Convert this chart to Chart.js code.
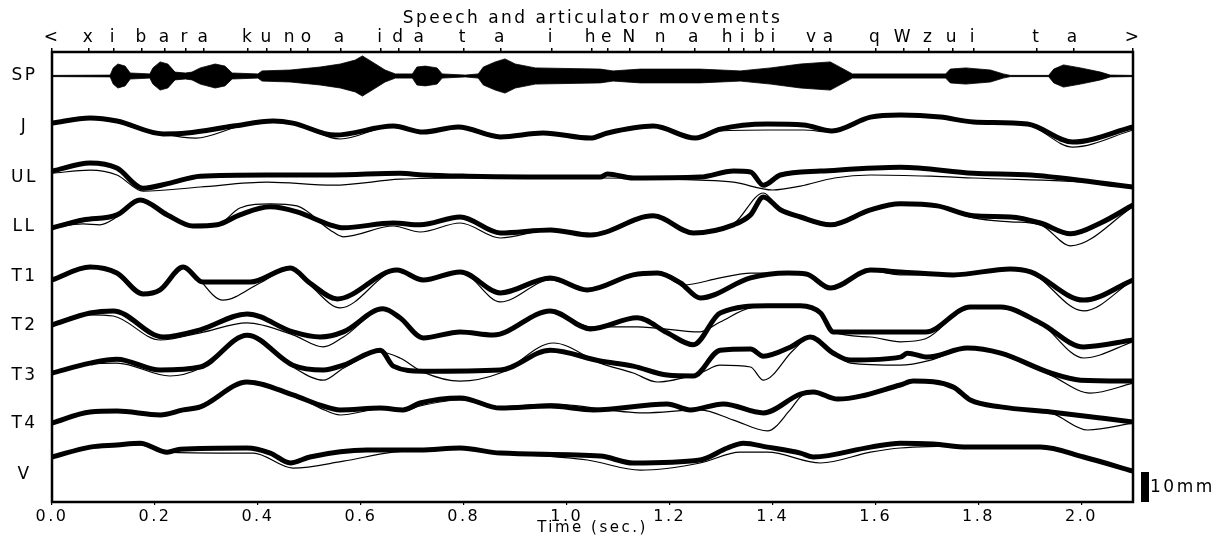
<!DOCTYPE html>
<html>
<head>
<meta charset="utf-8">
<title>Speech and articulator movements</title>
<script src="https://cdn.jsdelivr.net/npm/chart.js@4.4.1/dist/chart.umd.min.js"></script>
<style>
    html, body { margin: 0; padding: 0; background: #fff; }
</style>
</head>
<body>
<canvas id="motionChart" width="1220" height="539"></canvas>
<script>
// Time axis (seconds)
const timeTicks = [0, 0.2, 0.4, 0.6, 0.8, 1.0, 1.2, 1.4, 1.6, 1.8, 2.0];

// Phoneme marks along the top
const phonTimes = [0, 0.072, 0.119, 0.175, 0.220, 0.259, 0.295, 0.381, 0.418, 0.463, 0.496, 0.560,
    0.639, 0.674, 0.715, 0.799, 0.871, 0.970, 1.048, 1.079, 1.123, 1.184, 1.248, 1.314, 1.343,
    1.376, 1.403, 1.477, 1.510, 1.600, 1.654, 1.703, 1.749, 1.790, 1.913, 1.984, 2.1];
const phonLabels = ['<', 'x', 'i', 'b', 'a', 'r', 'a', 'k', 'u', 'n', 'o', 'a', 'i', 'd', 'a', 't', 'a',
    'i', 'h', 'e', 'N', 'n', 'a', 'h', 'i', 'b', 'i', 'v', 'a', 'q', 'W', 'z', 'u', 'i', 't', 'a', '>'];

// Channel names (top to bottom)
const channelNames = ['SP', 'J', 'UL', 'LL', 'T1', 'T2', 'T3', 'T4', 'V'];

// Speech waveform envelope: time (s) and half amplitude (mm on the plot)
const spTime = [0, 0.113, 0.119, 0.128, 0.142, 0.152, 0.190, 0.196, 0.210, 0.225, 0.239, 0.259, 0.272,
    0.288, 0.317, 0.336, 0.350, 0.400, 0.408, 0.463, 0.521, 0.560, 0.589, 0.603, 0.622, 0.647, 0.667,
    0.700, 0.709, 0.725, 0.748, 0.758, 0.803, 0.828, 0.838, 0.861, 0.880, 0.900, 0.939, 1.065, 1.090,
    1.143, 1.259, 1.337, 1.396, 1.454, 1.512, 1.541, 1.555, 1.736, 1.745, 1.775, 1.823, 1.848, 1.862,
    1.936, 1.946, 1.965, 1.998, 2.037, 2.056, 2.1];
const spAmp = [0.2, 0.3, 2.7, 4, 3.3, 1, 0.7, 2.7, 4.7, 4, 1.3, 1, 1.3, 2.7, 4, 3.3, 1, 0.7, 1.7, 2, 3,
    4, 5.3, 6.7, 4.7, 2, 0.7, 0.7, 3, 3.3, 2.7, 0.7, 0.3, 0.7, 3, 4.7, 5.7, 4, 2.7, 2.3, 1.7, 2.3, 2.3,
    1.7, 2.7, 4, 4.7, 2, 0.7, 0.7, 2.3, 2.7, 2, 0.7, 0.2, 0.2, 2.3, 3.7, 2.7, 1.3, 0.3, 0.2];

// Articulator traces: [time s, displacement mm]; thick = measured, thin = model
const jawThick = [[0, 1.3], [0.074, 3.0], [0.126, 2.0], [0.216, -2.3], [0.262, -2.0], [0.352, 0.3], [0.430, 2.0],
    [0.468, 1.3], [0.550, -2.7], [0.663, 0.3], [0.721, -1.7], [0.789, 0], [0.871, -3.3], [0.954, -2.0],
    [1.046, -3.7], [1.079, -2.0], [1.168, 0.3], [1.250, -3.7], [1.298, -0.7], [1.390, 1.0], [1.460, 0.7],
    [1.515, -1.3], [1.590, 3.3], [1.648, 4.0], [1.726, 3.3], [1.790, 1.7], [1.895, 1.0], [1.983, -5.0], [2.1, 0]];
const jawThin = [[0, 1.3], [0.074, 3.0], [0.126, 2.0], [0.216, -2.3], [0.28, -3.7], [0.36, 0], [0.43, 2.0],
    [0.468, 1.3], [0.56, -4.0], [0.663, 0.3], [0.721, -1.7], [0.789, 0], [0.871, -3.3], [0.954, -2.0],
    [1.046, -3.7], [1.079, -2.0], [1.168, 0.3], [1.250, -3.7], [1.298, -1.3], [1.39, -1.0], [1.46, -1.0],
    [1.515, -1.7], [1.590, 3.0], [1.648, 3.7], [1.726, 3.0], [1.790, 1.7], [1.895, 0.7], [1.983, -6.7], [2.1, -1.0]];

const ulThick = [[0, 2.0], [0.074, 4.7], [0.126, 3.0], [0.177, -3.7], [0.229, -2.0], [0.288, 0.3], [0.418, 0.7],
    [0.546, 0.7], [0.676, 1.3], [0.721, 0.7], [0.807, 0.3], [1.065, 0], [1.079, 1.0], [1.129, -0.3], [1.259, 0],
    [1.324, 2.0], [1.357, 1.7], [1.382, -2.7], [1.415, 0.7], [1.493, 2.0], [1.648, 3.3], [1.790, 1.3],
    [1.901, 0.7], [2.1, -3.3]];
const ulThin = [[0, 1.3], [0.074, 2.3], [0.126, 0.7], [0.177, -4.7], [0.288, -3.3], [0.418, -1.7], [0.546, -2.7],
    [0.676, -0.7], [0.807, -0.3], [1.065, -0.3], [1.259, -1.0], [1.324, -1.7], [1.40, -4.3], [1.454, -3.0],
    [1.52, -0.3], [1.590, 0.7], [1.707, 0.3], [1.790, -0.3], [2.037, -2.0], [2.1, -3.3]];

const llThick = [[0, -0.3], [0.060, 2.3], [0.126, 4.0], [0.171, 9.0], [0.224, 4.0], [0.274, 0.3], [0.321, 0.7],
    [0.365, 4.0], [0.424, 6.7], [0.476, 5.0], [0.540, 0.7], [0.566, -0.3], [0.663, 1.3], [0.715, 0.7],
    [0.793, 3.3], [0.871, -2.0], [0.968, -1.0], [1.046, -2.7], [1.168, 3.7], [1.246, -2.0], [1.324, 0.7],
    [1.357, 4.0], [1.382, 10.0], [1.415, 5.7], [1.454, 3.3], [1.512, 0.7], [1.590, 5.7], [1.648, 7.7],
    [1.720, 7.0], [1.790, 3.7], [1.862, 3.3], [1.920, 1.3], [1.979, -2.3], [2.037, 1.3], [2.1, 7.3]];
const llThin = [[0, -0.3], [0.060, 1.0], [0.093, 0.7], [0.126, 3.3], [0.171, 9.0], [0.224, 4.0], [0.274, 0.3],
    [0.321, 0.7], [0.365, 6.3], [0.424, 7.7], [0.476, 7.0], [0.540, -1.0], [0.566, -3.3], [0.663, 0.3],
    [0.715, -1.7], [0.793, 1.3], [0.871, -3.7], [0.968, -1.0], [1.046, -2.7], [1.168, 3.3], [1.246, -2.0],
    [1.324, 1.0], [1.382, 11.3], [1.415, 5.7], [1.454, 3.3], [1.512, 0.7], [1.590, 5.7], [1.648, 7.7],
    [1.720, 6.7], [1.790, 3.0], [1.862, 1.7], [1.920, 0.7], [1.979, -6.3], [2.1, 6.7]];

const t1Thick = [[0, -1.0], [0.074, 3.3], [0.126, 1.3], [0.177, -5.7], [0.210, -4.3], [0.255, 3.3], [0.293, -1.7],
    [0.385, -1.7], [0.463, 3.0], [0.501, -2.0], [0.554, -7.3], [0.67, 2.3], [0.721, -1.0], [0.793, 1.7],
    [0.871, -5.3], [0.968, -0.3], [1.040, -4.3], [1.129, 0.7], [1.176, 1.3], [1.221, -2.0], [1.259, -7.0],
    [1.357, -0.3], [1.429, 1.3], [1.465, 1.0], [1.512, -3.7], [1.590, 2.3], [1.648, 1.7], [1.751, 0.7],
    [1.862, 2.7], [1.901, 1.7], [2.004, -7.7], [2.1, -1.0]];
const t1Thin = [[0, -1.0], [0.074, 3.3], [0.126, 1.3], [0.177, -5.3], [0.210, -4.3], [0.255, 3.3], [0.332, -7.7],
    [0.404, -2.0], [0.463, 3.0], [0.501, -2.7], [0.560, -10.3], [0.67, 2.0], [0.721, -1.0], [0.793, 1.7],
    [0.871, -8.3], [0.968, -1.0], [1.040, -4.3], [1.129, 0.7], [1.176, 1.3], [1.226, -2.7], [1.298, -0.3],
    [1.357, 1.3], [1.429, 1.3], [1.465, 1.0], [1.512, -3.7], [1.590, 2.0], [1.648, 0.7], [1.751, 0.7],
    [1.862, 2.7], [1.901, 1.7], [2.004, -11.3], [2.1, -1.0]];

const t2Thick = [[0, 0.3], [0.074, 4.3], [0.119, 5.0], [0.216, -3.7], [0.288, -1.3], [0.379, 4.0], [0.468, -2.0],
    [0.521, -3.7], [0.566, -2.0], [0.643, 5.7], [0.676, 2.7], [0.721, -4.0], [0.793, -2.0], [0.857, -3.0],
    [0.968, 5.0], [1.046, -1.0], [1.137, 2.7], [1.195, -2.3], [1.246, -6.3], [1.298, 4.3], [1.390, 6.7],
    [1.454, 6.7], [1.493, 4.3], [1.518, -2.0], [1.590, -2.0], [1.697, -2.0], [1.784, 6.3], [1.843, 6.3],
    [1.920, 1.0], [2.004, -7.0], [2.1, -4.7]];
const t2Thin = [[0, 0.3], [0.074, 3.7], [0.119, 3.3], [0.210, -4.7], [0.288, -2.3], [0.379, 1.0], [0.468, -3.0],
    [0.527, -7.0], [0.566, -3.7], [0.643, 5.3], [0.676, 2.7], [0.721, -4.0], [0.793, -2.0], [0.857, -3.0],
    [0.968, 5.0], [1.046, -0.3], [1.137, -0.3], [1.259, -2.0], [1.298, 1.3], [1.357, 6.0], [1.454, 7.0],
    [1.493, 4.3], [1.518, -2.0], [1.590, -3.7], [1.648, -5.3], [1.697, -4.3], [1.784, 6.3], [1.843, 6.3],
    [1.920, 1.0], [2.004, -10.7], [2.1, -5.3]];

const t3Thick = [[0, 0.7], [0.074, 4.0], [0.126, 5.3], [0.210, 1.7], [0.288, 2.7], [0.379, 13.3], [0.468, 3.3],
    [0.527, 1.7], [0.566, 3.3], [0.638, 8.3], [0.663, 3.0], [0.721, 1.3], [0.871, 1.7], [0.968, 8.3],
    [1.065, 4.7], [1.129, 3.0], [1.195, 0], [1.246, -0.3], [1.298, 8.3], [1.357, 8.7], [1.382, 6.3],
    [1.434, 9.3], [1.473, 12.7], [1.518, 7.3], [1.551, 5.0], [1.648, 6.0], [1.662, 7.3], [1.701, 6.0],
    [1.778, 9.0], [1.843, 7.3], [1.940, 0.7], [1.998, -1.7], [2.1, -2.0]];
const t3Thin = [[0, 0.7], [0.074, 3.7], [0.126, 4.0], [0.229, -0.3], [0.288, 2.3], [0.379, 13.3], [0.468, 2.7],
    [0.527, -1.7], [0.566, 2.3], [0.638, 7.7], [0.676, 5.7], [0.721, 1.0], [0.793, -2.0], [0.871, 0.7],
    [0.974, 10.7], [1.065, 4.0], [1.129, 0.7], [1.176, -2.3], [1.259, 0.7], [1.298, 3.3], [1.357, 2.7],
    [1.382, -1.7], [1.440, 8.3], [1.473, 12.7], [1.518, 7.3], [1.551, 4.0], [1.648, 3.3], [1.707, 5.0],
    [1.778, 9.0], [1.843, 7.3], [1.940, 0], [2.017, -6.0], [2.1, -2.7]];

const t4Thick = [[0, 0.3], [0.074, 4.0], [0.126, 4.3], [0.210, 3.0], [0.255, 4.7], [0.288, 5.7], [0.379, 14.0],
    [0.468, 9.7], [0.521, 6.3], [0.560, 4.7], [0.638, 5.3], [0.682, 4.7], [0.715, 7.0], [0.793, 8.7],
    [0.871, 5.3], [0.968, 6.0], [1.052, 4.7], [1.195, 6.7], [1.240, 4.7], [1.304, 6.7], [1.382, 3.7],
    [1.454, 10.0], [1.479, 10.7], [1.526, 8.3], [1.648, 13.0], [1.673, 14.3], [1.751, 12.3], [1.784, 8.0],
    [1.843, 5.7], [1.940, 4.0], [2.037, 2.0], [2.1, 0.7]];
const t4Thin = [[0, 0.3], [0.074, 4.0], [0.126, 4.3], [0.210, 3.0], [0.255, 4.7], [0.288, 5.7], [0.379, 14.0],
    [0.468, 9.7], [0.521, 5.3], [0.560, 3.0], [0.638, 5.0], [0.682, 4.3], [0.715, 6.0], [0.793, 8.0],
    [0.871, 5.7], [0.968, 6.7], [1.149, 3.7], [1.259, 4.7], [1.324, 1.3], [1.390, -2.3], [1.434, 4.7],
    [1.454, 9.0], [1.479, 10.7], [1.526, 8.3], [1.648, 13.0], [1.673, 14.0], [1.751, 12.0], [1.784, 7.7],
    [1.843, 5.3], [1.940, 3.7], [2.012, -2.0], [2.1, 0.3]];

const vThick = [[0, 5.7], [0.074, 9.0], [0.126, 9.7], [0.171, 10.3], [0.224, 7.3], [0.249, 8.3], [0.379, 8.7],
    [0.424, 7.0], [0.463, 3.7], [0.501, 5.7], [0.612, 8.0], [0.715, 8.0], [0.793, 8.7], [0.871, 7.0],
    [1.065, 6.0], [1.129, 3.7], [1.259, 4.7], [1.312, 8.7], [1.343, 10.3], [1.390, 9.0], [1.454, 7.0],
    [1.479, 5.7], [1.590, 9.0], [1.648, 10.3], [1.712, 10.0], [1.778, 9.0], [1.920, 9.0], [2.004, 5.7], [2.1, 1.0]];
const vThin = [[0, 5.7], [0.074, 8.7], [0.171, 9.7], [0.224, 7.3], [0.340, 7.0], [0.391, 7.0], [0.468, 2.0],
    [0.566, 4.3], [0.663, 7.3], [0.793, 8.3], [0.871, 7.0], [1.040, 4.7], [1.143, 1.3], [1.259, 3.7],
    [1.337, 7.3], [1.390, 7.3], [1.493, 3.7], [1.590, 7.3], [1.648, 8.7], [1.778, 9.3], [1.920, 9.0],
    [2.004, 5.7], [2.1, 1.0]];

const scaleBarMm = 10;

// Layout: vertical position (mm from the bottom of the plot) of each channel row
const rowBase = { SP: 142, J: 125, UL: 108.3, LL: 91.7, T1: 75, T2: 58.7, T3: 42.3, T4: 26, V: 9.3 };
const LETTER_SPACING = '2.5px';

Chart.defaults.font.family = '"DejaVu Sans", sans-serif';
Chart.defaults.color = '#000';

const canvas = document.getElementById('motionChart');
const ctx = canvas.getContext('2d');

function toPoints(pairs, base) {
    return pairs.map(p => ({ x: p[0], y: base + p[1] }));
}

const traces = {
    J: [jawThick, jawThin],
    UL: [ulThick, ulThin],
    LL: [llThick, llThin],
    T1: [t1Thick, t1Thin],
    T2: [t2Thick, t2Thin],
    T3: [t3Thick, t3Thin],
    T4: [t4Thick, t4Thin],
    V: [vThick, vThin]
};

const datasets = [];

// Speech waveform envelope
const spBase = rowBase.SP;
datasets.push({
    label: 'SP upper',
    data: spTime.map((t, i) => ({ x: t, y: spBase + spAmp[i] })),
    borderWidth: 0.8,
    borderColor: '#000',
    backgroundColor: '#000',
    fill: '+1',
    tension: 0,
    order: 2
});
datasets.push({
    label: 'SP lower',
    data: spTime.map((t, i) => ({ x: t, y: spBase - spAmp[i] })),
    borderWidth: 0.8,
    borderColor: '#000',
    fill: false,
    tension: 0,
    order: 2
});
datasets.push({
    label: 'SP',
    data: [{ x: spTime[0], y: spBase }, { x: spTime[spTime.length - 1], y: spBase }],
    borderWidth: 1.2,
    borderColor: '#000',
    fill: false,
    order: 2
});

Object.keys(traces).forEach(name => {
    const [thick, thin] = traces[name];
    datasets.push({
        label: name + ' measured',
        data: toPoints(thick, rowBase[name]),
        borderColor: '#000',
        borderWidth: 5,
        borderJoinStyle: 'round',
        borderCapStyle: 'round',
        cubicInterpolationMode: 'monotone',
        fill: false,
        order: 0
    });
    datasets.push({
        label: name + ' model',
        data: toPoints(thin, rowBase[name]),
        borderColor: '#000',
        borderWidth: 1.2,
        cubicInterpolationMode: 'monotone',
        fill: false,
        order: 1
    });
});

// Frame, 10mm scale bar, and the wide lettering
const figureExtras = {
    id: 'figureExtras',
    beforeUpdate(chart) {
        chart.ctx.letterSpacing = LETTER_SPACING;
    },
    beforeDraw(chart) {
        chart.ctx.letterSpacing = LETTER_SPACING;
    },
    afterDraw(chart) {
        const c = chart.ctx;
        const a = chart.chartArea;
        const y = chart.scales.y;
        c.save();
        c.strokeStyle = '#000';
        c.lineWidth = 2.5;
        c.strokeRect(a.left, a.top, a.right - a.left, a.bottom - a.top);

        const y0 = y.getPixelForValue(0);
        const y1 = y.getPixelForValue(scaleBarMm);
        c.fillStyle = '#000';
        c.fillRect(a.right + 8, y1, 8, y0 - y1);
        c.font = '17px "DejaVu Sans"';
        c.letterSpacing = LETTER_SPACING;
        c.textBaseline = 'middle';
        c.textAlign = 'left';
        c.fillText(scaleBarMm + 'mm', a.right + 17, (y0 + y1) / 2 + 1);
        c.restore();
    }
};

new Chart(ctx, {
    type: 'line',
    data: { datasets: datasets },
    options: {
        responsive: false,
        animation: false,
        devicePixelRatio: 1,
        layout: { padding: { left: 0, right: 87, top: 0, bottom: 0 } },
        elements: { point: { radius: 0, hoverRadius: 0 } },
        plugins: {
            legend: { display: false },
            tooltip: { enabled: false }
        },
        scales: {
            x: {
                type: 'linear',
                position: 'bottom',
                min: 0,
                max: 2.1,
                afterBuildTicks: s => { s.ticks = timeTicks.map(v => ({ value: v })); },
                afterFit: s => { s.height = 37; },
                grid: { drawOnChartArea: false, drawTicks: true, tickLength: 3, color: '#000', lineWidth: 1.2 },
                border: { display: false },
                ticks: {
                    autoSkip: false,
                    maxRotation: 0,
                    padding: 2,
                    font: { size: 16 },
                    callback: v => Number(v).toFixed(1)
                },
                title: {
                    display: true,
                    text: 'Time (sec.)',
                    font: { size: 15 },
                    padding: { top: 0, bottom: 2 }
                }
            },
            x2: {
                type: 'linear',
                axis: 'x',
                position: 'top',
                min: 0,
                max: 2.1,
                afterBuildTicks: s => { s.ticks = phonTimes.map(v => ({ value: v })); },
                afterFit: s => { s.height = 52; },
                grid: { drawOnChartArea: false, drawTicks: true, tickLength: 4, color: '#000', lineWidth: 1.5 },
                border: { display: false },
                ticks: {
                    autoSkip: false,
                    maxRotation: 0,
                    minRotation: 0,
                    padding: 0,
                    font: { size: 17 },
                    callback: (v, i) => phonLabels[i]
                },
                title: {
                    display: true,
                    text: 'Speech and articulator movements',
                    font: { size: 17 },
                    padding: { top: 8, bottom: 0 }
                }
            },
            y: {
                type: 'linear',
                min: 0,
                max: 150,
                afterBuildTicks: s => { s.ticks = channelNames.map(n => ({ value: rowBase[n] })); },
                afterFit: s => { s.width = 52; },
                grid: { display: false, drawTicks: false },
                border: { display: false },
                ticks: {
                    autoSkip: false,
                    crossAlign: 'center',
                    padding: 14,
                    font: { size: 17 },
                    callback: (v, i) => channelNames[i]
                }
            }
        }
    },
    plugins: [figureExtras]
});
</script>
</body>
</html>
